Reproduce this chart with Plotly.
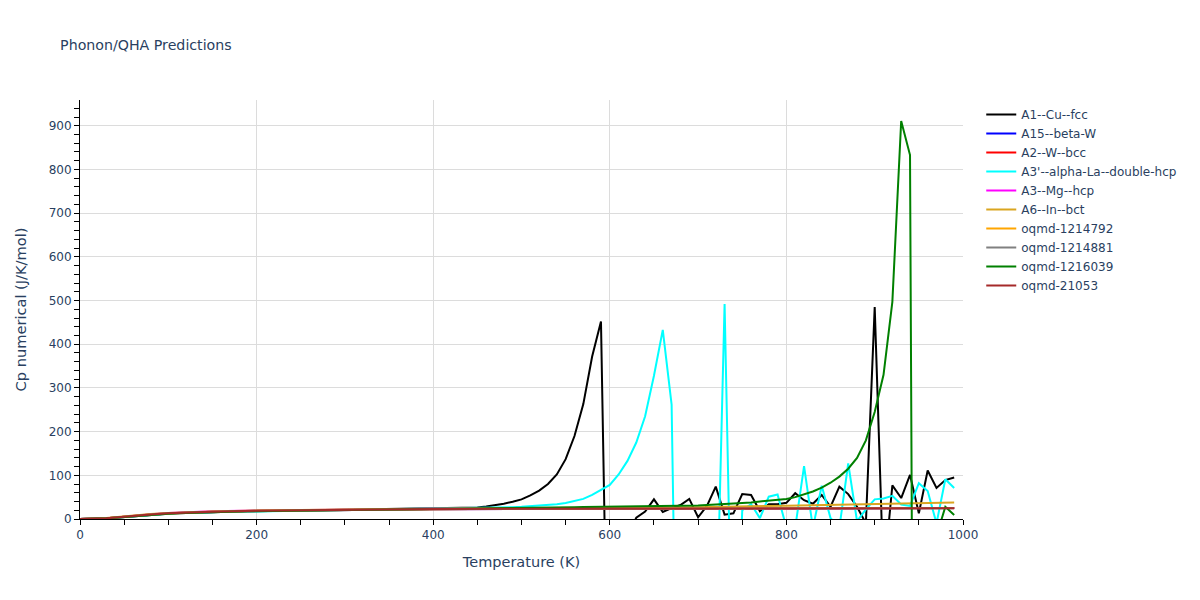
import plotly.graph_objects as go

# Temperature grid (K) for the detailed series
T = [t * 10 for t in range(100)]  # 0 .. 990

cu_fcc = [
    0, 0.1, 0.6, 1.6, 3.2, 5.0, 6.9, 8.6, 10.1, 11.4,
    12.5, 13.5, 14.3, 15.0, 15.6, 16.1, 16.6, 17.0, 17.4, 17.7,
    18.0, 18.3, 18.6, 18.9, 19.2, 19.5, 19.8, 20.1, 20.4, 20.7,
    21.0, 21.2, 21.4, 21.6, 21.8, 22.0, 22.2, 22.5, 22.8, 23.0,
    23.3, 23.6, 24.0, 24.6, 25.4, 26.5, 28.5, 31.0, 35.0, 39.5,
    45, 54, 65, 80, 102, 137, 190, 263, 372, 452,
    -678, -250, -40, 3, 17, 45, 16, 25, 32, 46,
    4, 30, 74, 10, 13, 57, 55, 18, 34, 34,
    37, 59, 43, 35, 55, 28, 74, 57, 28, -10,
    485, -137, 77, 48, 101, 13, 111, 71, 89, 95,
]

la_dhcp = [
    0, 0.1, 0.5, 1.4, 2.9, 4.6, 6.4, 8.1, 9.6, 10.9,
    12.0, 13.0, 13.8, 14.5, 15.1, 15.6, 16.1, 16.5, 16.9, 17.2,
    17.5, 17.8, 18.1, 18.4, 18.7, 19.0, 19.3, 19.6, 19.9, 20.2,
    20.5, 20.8, 21.0, 21.2, 21.4, 21.6, 21.8, 22.0, 22.2, 22.5,
    22.8, 23.1, 23.4, 23.7, 24.0, 24.4, 24.9, 25.5, 26.2, 27.0,
    27.8, 28.9, 30.2, 31.8, 33.8, 36.5, 40.5, 46, 55, 66,
    78, 102, 133, 175, 235, 328, 433, 262, -1000, -600,
    -450, -380, -330, 492, -490, 20, 34, 2, 51, 56,
    -20, -20, 121, -20, 76, 2, -20, 127, -5, 22,
    45, 47, 53, 33, 30, 82, 64, -10, 91, 71,
]

oqmd_1216039 = [
    0, 0.1, 0.5, 1.5, 3.0, 4.8, 6.7, 8.4, 9.9, 11.2,
    12.3, 13.3, 14.1, 14.8, 15.4, 15.9, 16.4, 16.8, 17.2, 17.6,
    17.9, 18.2, 18.5, 18.8, 19.1, 19.4, 19.7, 20.0, 20.3, 20.6,
    20.9, 21.2, 21.5, 21.8, 22.1, 22.4, 22.7, 23.0, 23.3, 23.6,
    23.8, 24.0, 24.2, 24.4, 24.6, 24.8, 25.0, 25.2, 25.4, 25.6,
    25.8, 26.0, 26.2, 26.4, 26.6, 26.8, 27.0, 27.2, 27.4, 27.6,
    27.8, 28.0, 28.2, 28.5, 28.8, 29.1, 29.4, 29.7, 30.0, 30.4,
    31.0, 32.0, 33.0, 34.0, 35.0, 36.5, 38.0, 40.0, 42.0, 44.0,
    46, 50, 56, 63, 72, 83, 97, 115, 140, 180,
    245, 330, 497, 911, 833, -3300, -1500, -39, 28, 9,
]

# Coarser temperature grid for the smooth, nearly flat series
Tc = [0, 10, 20, 30, 40, 50, 60, 70, 80, 100, 120, 150, 200, 250, 300, 400, 500, 600, 700, 800, 900, 990]

a15_beta_w = [0, 0.1, 0.5, 1.4, 2.9, 4.7, 6.6, 8.4, 10.0, 12.5, 14.4, 16.3, 18.3, 19.7, 20.8, 22.3, 23.2, 23.8, 24.2, 24.5, 24.8, 25.0]
a2_w_bcc = [0, 0.1, 0.4, 1.2, 2.6, 4.3, 6.1, 7.8, 9.4, 12.0, 14.0, 16.0, 18.2, 19.6, 20.7, 22.2, 23.1, 23.7, 24.1, 24.4, 24.7, 24.9]
a3_mg_hcp = [0, 0.1, 0.7, 1.9, 3.7, 5.7, 7.7, 9.5, 11.0, 13.6, 15.5, 17.5, 19.5, 20.9, 22.3, 23.4, 24.0, 24.3, 24.5, 24.7, 24.9, 25.1]
a6_in_bct = [0, 0.2, 1.0, 2.5, 4.5, 6.6, 8.5, 10.2, 11.6, 13.9, 15.6, 17.4, 19.4, 20.9, 22.0, 23.4, 24.3, 25.2, 27.0, 30.5, 34.5, 38.0]
oqmd_1214792 = [0, 0.1, 0.6, 1.6, 3.3, 5.2, 7.1, 8.8, 10.3, 12.8, 14.7, 16.6, 18.6, 20.0, 21.1, 22.6, 23.5, 24.0, 24.3, 24.6, 24.9, 25.2]
oqmd_1214881 = [0, 0.1, 0.6, 1.7, 3.4, 5.3, 7.2, 8.9, 10.4, 12.9, 14.8, 16.7, 18.7, 20.1, 21.2, 22.6, 23.5, 23.9, 24.2, 24.4, 24.6, 24.8]
oqmd_21053 = [0, 0.1, 0.6, 1.7, 3.4, 5.3, 7.2, 8.9, 10.4, 12.9, 14.8, 16.7, 18.7, 20.1, 21.3, 22.7, 23.5, 24.0, 24.2, 24.4, 24.5, 24.6]

series = [
    ("A1--Cu--fcc", T, cu_fcc, "black"),
    ("A15--beta-W", Tc, a15_beta_w, "blue"),
    ("A2--W--bcc", Tc, a2_w_bcc, "red"),
    ("A3'--alpha-La--double-hcp", T, la_dhcp, "cyan"),
    ("A3--Mg--hcp", Tc, a3_mg_hcp, "magenta"),
    ("A6--In--bct", Tc, a6_in_bct, "goldenrod"),
    ("oqmd-1214792", Tc, oqmd_1214792, "orange"),
    ("oqmd-1214881", Tc, oqmd_1214881, "gray"),
    ("oqmd-1216039", T, oqmd_1216039, "green"),
    ("oqmd-21053", Tc, oqmd_21053, "brown"),
]

fig = go.Figure()
for name, x, y, color in series:
    fig.add_trace(go.Scatter(x=x, y=y, mode="lines", name=name,
                             line=dict(color=color, width=2)))

axis_common = dict(
    showline=True, linecolor="black", linewidth=1,
    ticks="outside", ticklen=5, tickcolor="black",
    showgrid=True, gridcolor="#dcdcdc", gridwidth=1,
    zeroline=False,
    tickfont=dict(color="#2a3f5f", size=12),
)

fig.update_layout(
    title=dict(text="Phonon/QHA Predictions", font=dict(size=14.2, color="#2a3f5f"),
               x=0.044, xanchor="left", y=0.937, yanchor="middle"),
    plot_bgcolor="white", paper_bgcolor="white",
    font=dict(family="DejaVu Sans, Verdana, sans-serif", color="#2a3f5f"),
    margin=dict(l=72, r=229, t=92, b=73),
    legend=dict(font=dict(size=12, color="#2a3f5f"),
                xref="container", x=0.822, xanchor="left",
                yref="paper", y=1, yanchor="top"),
    showlegend=True,
)
fig.update_xaxes(title=dict(text="Temperature (K)", font=dict(size=14.5)),
                 range=[0, 1000], dtick=200, automargin=False,
                 minor=dict(dtick=50, ticks="outside", ticklen=5, tickcolor="black", showgrid=False),
                 **axis_common)
fig.update_yaxes(title=dict(text="Cp numerical (J/K/mol)", font=dict(size=14.6), standoff=18),
                 range=[0, 959], dtick=100,
                 minor=dict(dtick=20, ticks="outside", ticklen=5, tickcolor="black", showgrid=False),
                 **axis_common)

fig.write_html("out.html")
